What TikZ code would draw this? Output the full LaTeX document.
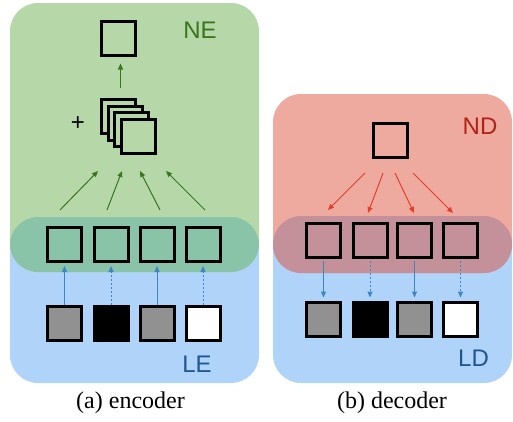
\documentclass[tikz,border=0pt]{standalone}
\usepackage{fontspec}
\setsansfont{Liberation Sans}
\setmainfont{Liberation Serif}
\usetikzlibrary{arrows.meta}
\definecolor{ngreen}{RGB}{182,215,168}
\definecolor{lblue}{RGB}{176,212,249}
\definecolor{nred}{RGB}{239,170,160}
\definecolor{ovgreen}{RGB}{138,196,168}
\definecolor{ovred}{RGB}{196,145,155}
\definecolor{dgreen}{RGB}{56,118,29}
\definecolor{dblue}{RGB}{31,85,145}
\definecolor{dred}{RGB}{176,36,20}
\definecolor{ared}{RGB}{224,64,42}
\definecolor{ablue}{RGB}{61,133,198}
\definecolor{sgray}{RGB}{145,145,145}
\begin{document}
\begin{tikzpicture}[x=1pt,y=-1pt,
  sq/.style={draw=black,line width=3pt,minimum size=34pt,inner sep=0pt,outer sep=1.5pt},
  region/.style={rounded corners=28pt},
  garr/.style={draw=dgreen,line width=1pt,-{Triangle[length=6pt,width=5pt]}},
  rarr/.style={draw=ared,line width=1pt,-{Triangle[length=6pt,width=5pt]}},
  barr/.style={draw=ablue,line width=1pt,-{Triangle[length=6pt,width=5pt]}},
  darr/.style={barr,dash pattern=on 2pt off 2pt},
  lbl/.style={font=\sffamily\fontsize{24}{28}\selectfont,inner sep=0pt},
  captext/.style={font=\rmfamily\fontsize{24}{28}\selectfont,inner sep=0pt}]
\useasboundingbox (0,0) rectangle (513,421);
% ---------------- encoder regions
\fill[lblue,region] (10,217) rectangle (259,383);
\fill[ngreen,region] (10,3) rectangle (259,272);
\begin{scope}
  \clip[region] (10,3) rectangle (259,272);
  \fill[ovgreen,region] (10,217) rectangle (259,383);
\end{scope}
% ---------------- decoder regions
\fill[lblue,region] (273,216) rectangle (512,383);
\fill[nred,region] (273,94) rectangle (512,273);
\begin{scope}
  \clip[region] (273,94) rectangle (512,273);
  \fill[ovred,region] (273,216) rectangle (512,383);
\end{scope}
% ---------------- labels
\node[lbl,text=dgreen] (ne) at (200,30.5) {NE};
\node[lbl,text=dblue] (le) at (197,364) {LE};
\node[lbl,text=dred] (nd) at (480,126.5) {ND};
\node[lbl,text=dblue] (ld) at (473.5,358.5) {LD};
\node[lbl] (plus) at (78,124) {+};
% ---------------- encoder nodes
\node[sq] (etop) at (118.5,38) {};
\node[sq,fill=ngreen] (s1) at (118.5,116.5) {};
\node[sq,fill=ngreen] (s2) at (125.2,123.2) {};
\node[sq,fill=ngreen] (s3) at (131.8,129.8) {};
\node[sq,fill=ngreen] (s4) at (138.5,136.5) {};
\foreach \i/\x in {1/64.5,2/111,3/157,4/203}{
  \node[sq] (em\i) at (\x,244.5) {};
}
\node[sq,fill=sgray] (eb1) at (64.5,323.5) {};
\node[sq,fill=black] (eb2) at (111,323.5) {};
\node[sq,fill=sgray] (eb3) at (157,323.5) {};
\node[sq,fill=white] (eb4) at (203,323.5) {};
% encoder arrows
\draw[garr,shorten <=10pt,shorten >=7pt] ([xshift=2pt]s1.north) -- ([xshift=2pt]etop.south);
\coordinate (ga1) at (60,210);  \coordinate (gb1) at (98,171);
\coordinate (ga2) at (107,210); \coordinate (gb2) at (122,171);
\coordinate (ga3) at (160,210); \coordinate (gb3) at (140,171);
\coordinate (ga4) at (205,210); \coordinate (gb4) at (166,171);
\foreach \i in {1,...,4}{ \draw[garr] (ga\i) -- (gb\i); }
\draw[barr,shorten >=3pt] (eb1.north) -- (em1.south);
\draw[darr,shorten >=3pt] (eb2.north) -- (em2.south);
\draw[barr,shorten >=3pt] (eb3.north) -- (em3.south);
\draw[darr,shorten >=3pt] (eb4.north) -- (em4.south);
% ---------------- decoder nodes
\node[sq] (dtop) at (390,140) {};
\foreach \i/\x in {1/323.5,2/370,3/414.5,4/460.5}{
  \node[sq] (dm\i) at (\x,240.5) {};
}
\node[sq,fill=sgray] (db1) at (323.5,319) {};
\node[sq,fill=black] (db2) at (370,319) {};
\node[sq,fill=sgray] (db3) at (414.5,319) {};
\node[sq,fill=white] (db4) at (460.5,319) {};
% decoder arrows
\coordinate (ra1) at (365,173); \coordinate (rb1) at (328,210);
\coordinate (ra2) at (383,173); \coordinate (rb2) at (368,213);
\coordinate (ra3) at (395,173); \coordinate (rb3) at (414,213);
\coordinate (ra4) at (413,173); \coordinate (rb4) at (453,213);
\foreach \i in {1,...,4}{ \draw[rarr] (ra\i) -- (rb\i); }
\draw[barr,shorten <=2pt,shorten >=3pt] (dm1.south) -- (db1.north);
\draw[darr,shorten <=2pt,shorten >=3pt] (dm2.south) -- (db2.north);
\draw[barr,shorten <=2pt,shorten >=3pt] (dm3.south) -- (db3.north);
\draw[darr,shorten <=2pt,shorten >=3pt] (dm4.south) -- (db4.north);
% ---------------- captions
\node[captext] (capa) at (130.5,403) {(a) encoder};
\node[captext] (capb) at (392,403) {(b) decoder};
\end{tikzpicture}
\end{document}
